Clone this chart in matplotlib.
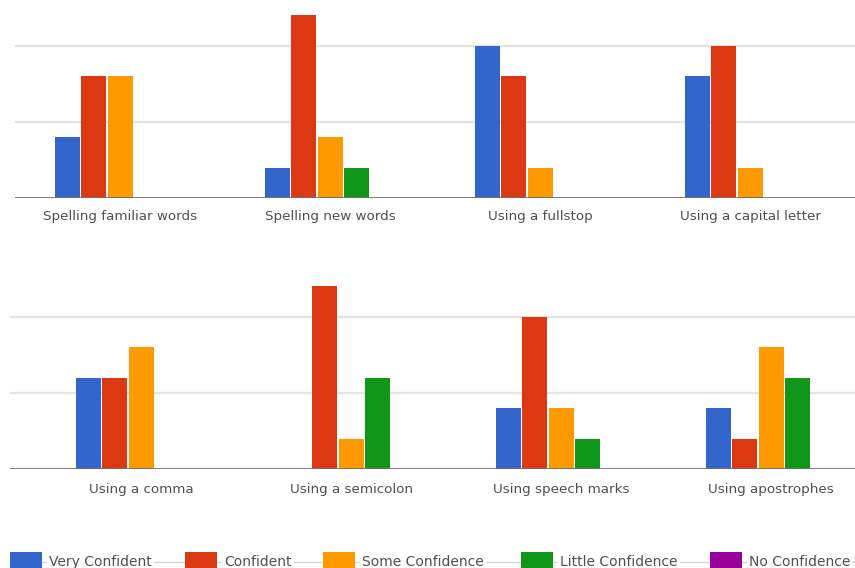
import matplotlib
matplotlib.use("Agg")
import matplotlib.pyplot as plt
from matplotlib.patches import Rectangle
import numpy as np

# ---- data ----
series = ["Very Confident", "Confident", "Some Confidence", "Little Confidence", "No Confidence"]
colors = ["#3366CC", "#DC3912", "#FF9900", "#109618", "#990099"]

top_categories = ["Spelling familiar words", "Spelling new words",
                  "Using a fullstop", "Using a capital letter"]
top_very_confident = [2, 1, 5, 4]
top_confident = [4, 6, 4, 5]
top_some_confidence = [4, 2, 1, 1]
top_little_confidence = [0, 1, 0, 0]
top_no_confidence = [0, 0, 0, 0]

bottom_categories = ["Using a comma", "Using a semicolon",
                     "Using speech marks", "Using apostrophes"]
bottom_very_confident = [3, 0, 2, 2]
bottom_confident = [3, 6, 5, 1]
bottom_some_confidence = [4, 1, 2, 4]
bottom_little_confidence = [0, 3, 1, 3]
bottom_no_confidence = [0, 0, 0, 0]

gridline_values = [2.5, 5]

W, H = 855, 568
fig = plt.figure(figsize=(W / 100, H / 100), dpi=100)
fig.patch.set_facecolor("white")

FONT = "DejaVu Sans"
TEXT_COLOR = "#505050"


def px_axes(left, right, top, bottom):
    return fig.add_axes([left / W, (H - bottom) / H, (right - left) / W, (bottom - top) / H])


def draw_panel(ax, categories, values, xlim, ylim, label_pad):
    n = len(values)
    step = 26.3 / 210
    width = 25 / 210
    x = np.arange(len(categories))
    for k, (vals, col) in enumerate(zip(values, colors)):
        ax.bar(x + (k - (n - 1) / 2) * step, vals, width=width, color=col,
               zorder=3, linewidth=0)
    for g in gridline_values:
        ax.axhline(g, color="#e3e3e3", lw=1.6, zorder=1)
    ax.axhline(0, color="#707070", lw=2.0, zorder=4)
    ax.set_xlim(*xlim)
    ax.set_ylim(*ylim)
    ax.set_xticks(x)
    ax.set_xticklabels(categories, fontsize=9.7, color=TEXT_COLOR, family=FONT)
    ax.tick_params(axis="x", length=0, pad=label_pad)
    ax.set_yticks([])
    for s in ax.spines.values():
        s.set_visible(False)
    ax.set_facecolor("none")


unit = 30.5  # pixels per response

ax_top = px_axes(15, 855, 0, 198)
draw_panel(ax_top, top_categories,
           [top_very_confident, top_confident, top_some_confidence,
            top_little_confidence, top_no_confidence],
           (-0.5, 3.5), (0, 198 / unit), 8.5)

ax_bot = px_axes(10, 855, 260, 469)
draw_panel(ax_bot, bottom_categories,
           [bottom_very_confident, bottom_confident, bottom_some_confidence,
            bottom_little_confidence, bottom_no_confidence],
           ((10 - 141) / 210, (855 - 141) / 210), (0, 209 / unit), 10)

# ---- legend row along the bottom edge ----
leg = fig.add_axes([0, 0, 1, 1])
leg.set_xlim(0, W)
leg.set_ylim(H, 0)
leg.axis("off")
leg.set_zorder(5)
leg.patch.set_alpha(0)

legend_x = [10, 185, 323, 521, 710]
row_y = 562
leg.plot([10, W], [row_y, row_y], color="#d4d4d4", lw=1, zorder=1)
for name, col, lx in zip(series, colors, legend_x):
    leg.add_patch(Rectangle((lx, 552), 32, 20, facecolor=col, edgecolor="none", zorder=2))
    leg.text(lx + 39, row_y, name, fontsize=10.0, family=FONT, color=TEXT_COLOR,
             va="center", ha="left", zorder=3,
             bbox=dict(facecolor="white", edgecolor="none", pad=1.5))

fig.savefig("out.png", dpi=100, facecolor="white")
